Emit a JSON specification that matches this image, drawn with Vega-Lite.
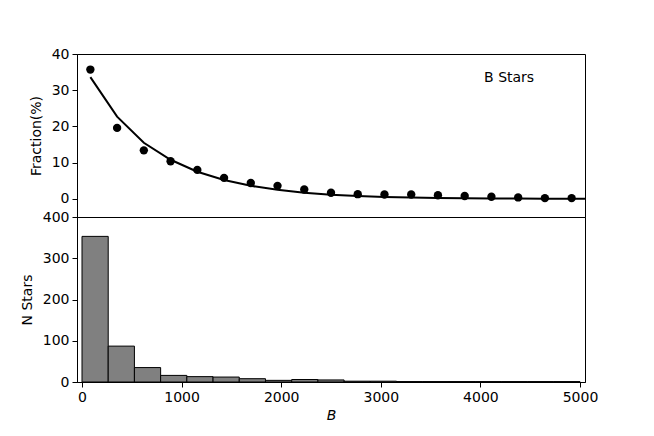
{
  "$schema": "https://vega.github.io/schema/vega-lite/v6.json",
  "padding": {"left": 19, "top": 46, "right": 5, "bottom": 5},
  "spacing": 0,
  "bounds": "flush",
  "config": {
    "font": "DejaVu Sans",
    "view": {"stroke": "black", "strokeWidth": 1},
    "axis": {
      "grid": false,
      "domainColor": "black",
      "tickColor": "black",
      "tickSize": 5,
      "labelFontSize": 14,
      "labelColor": "black",
      "labelPadding": 3,
      "titleFontSize": 14,
      "titleColor": "black",
      "titleFontWeight": "normal"
    }
  },
  "datasets": {
    "pts": [
      {"B": 131.6, "frac": 35.7},
      {"B": 394.7, "frac": 19.6},
      {"B": 657.9, "frac": 13.4},
      {"B": 921.1, "frac": 10.4},
      {"B": 1184.2, "frac": 8.0},
      {"B": 1447.4, "frac": 5.8},
      {"B": 1710.5, "frac": 4.4},
      {"B": 1973.7, "frac": 3.6},
      {"B": 2236.8, "frac": 2.6},
      {"B": 2500.0, "frac": 1.7},
      {"B": 2763.2, "frac": 1.3},
      {"B": 3026.3, "frac": 1.2},
      {"B": 3289.5, "frac": 1.2},
      {"B": 3552.6, "frac": 1.0},
      {"B": 3815.8, "frac": 0.8},
      {"B": 4078.9, "frac": 0.6},
      {"B": 4342.1, "frac": 0.4},
      {"B": 4605.3, "frac": 0.2},
      {"B": 4868.4, "frac": 0.2}
    ],
    "fit": [
      {"B": 131.6, "frac": 33.6},
      {"B": 394.7, "frac": 22.7},
      {"B": 657.9, "frac": 15.5},
      {"B": 921.1, "frac": 10.8},
      {"B": 1184.2, "frac": 7.5},
      {"B": 1447.4, "frac": 5.2},
      {"B": 1710.5, "frac": 3.6},
      {"B": 1973.7, "frac": 2.5},
      {"B": 2236.8, "frac": 1.7},
      {"B": 2500.0, "frac": 1.15},
      {"B": 2763.2, "frac": 0.8},
      {"B": 3026.3, "frac": 0.55},
      {"B": 3289.5, "frac": 0.38},
      {"B": 3552.6, "frac": 0.26},
      {"B": 3815.8, "frac": 0.18},
      {"B": 4078.9, "frac": 0.12},
      {"B": 4342.1, "frac": 0.08},
      {"B": 4605.3, "frac": 0.06},
      {"B": 4868.4, "frac": 0.04},
      {"B": 5000.0, "frac": 0.03}
    ],
    "hist": [
      {"lo": 0.0, "hi": 263.2, "n": 353},
      {"lo": 263.2, "hi": 526.3, "n": 87},
      {"lo": 526.3, "hi": 789.5, "n": 35},
      {"lo": 789.5, "hi": 1052.6, "n": 16},
      {"lo": 1052.6, "hi": 1315.8, "n": 13},
      {"lo": 1315.8, "hi": 1578.9, "n": 12},
      {"lo": 1578.9, "hi": 1842.1, "n": 8},
      {"lo": 1842.1, "hi": 2105.3, "n": 4},
      {"lo": 2105.3, "hi": 2368.4, "n": 6},
      {"lo": 2368.4, "hi": 2631.6, "n": 5},
      {"lo": 2631.6, "hi": 2894.7, "n": 2},
      {"lo": 2894.7, "hi": 3157.9, "n": 2},
      {"lo": 3157.9, "hi": 3421.1, "n": 1},
      {"lo": 3421.1, "hi": 3684.2, "n": 1},
      {"lo": 3684.2, "hi": 3947.4, "n": 1},
      {"lo": 3947.4, "hi": 4210.5, "n": 1},
      {"lo": 4210.5, "hi": 4473.7, "n": 1},
      {"lo": 4473.7, "hi": 4736.8, "n": 1},
      {"lo": 4736.8, "hi": 5000.0, "n": 1}
    ],
    "label": [{"B": 4253, "frac": 33.5, "t": "B Stars"}]
  },
  "vconcat": [
    {
      "width": 508,
      "height": 163,
      "layer": [
        {
          "data": {"name": "fit"},
          "mark": {"type": "line", "color": "black", "strokeWidth": 2, "clip": true},
          "encoding": {
            "x": {"field": "B", "type": "quantitative", "scale": {"domain": [0, 5000], "nice": false}, "axis": null},
            "y": {"field": "frac", "type": "quantitative", "scale": {"domain": [-5, 40], "nice": false, "zero": false},
                  "axis": {"values": [0, 10, 20, 30, 40], "title": "Fraction(%)", "titlePadding": 8}}
          }
        },
        {
          "data": {"name": "pts"},
          "mark": {"type": "point", "filled": true, "color": "black", "opacity": 1, "size": 70},
          "encoding": {
            "x": {"field": "B", "type": "quantitative"},
            "y": {"field": "frac", "type": "quantitative"}
          }
        },
        {
          "data": {"name": "label"},
          "mark": {"type": "text", "fontSize": 14, "color": "black", "align": "center", "baseline": "middle"},
          "encoding": {
            "x": {"field": "B", "type": "quantitative"},
            "y": {"field": "frac", "type": "quantitative"},
            "text": {"field": "t"}
          }
        }
      ]
    },
    {
      "width": 508,
      "height": 165,
      "data": {"name": "hist"},
      "mark": {"type": "bar", "fill": "#808080", "stroke": "black", "strokeWidth": 1, "orient": "vertical"},
      "encoding": {
        "x": {"field": "lo", "type": "quantitative", "scale": {"domain": [0, 5000], "nice": false},
              "axis": {"values": [0, 1000, 2000, 3000, 4000, 5000], "format": "d", "title": "B", "titleFontStyle": "italic", "titlePadding": 4}},
        "x2": {"field": "hi"},
        "y": {"field": "n", "type": "quantitative", "scale": {"domain": [0, 400], "nice": false},
              "axis": {"values": [0, 100, 200, 300, 400], "title": "N Stars", "titlePadding": 8}},
        "y2": {"datum": 0}
      }
    }
  ]
}
